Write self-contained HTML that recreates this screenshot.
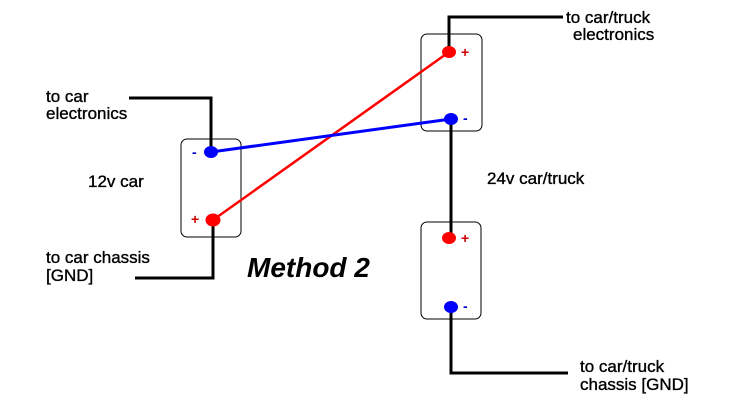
<!DOCTYPE html>
<html>
<head>
<meta charset="utf-8">
<style>
html,body{margin:0;padding:0;background:#fff;}
svg{display:block;}
text{font-family:"Liberation Sans",Arial,sans-serif;}
</style>
</head>
<body>
<svg width="748" height="403" viewBox="0 0 748 403" xmlns="http://www.w3.org/2000/svg">
<rect width="748" height="403" fill="#fff"/>
<!-- boxes -->
<rect x="181" y="139" width="60" height="98" rx="6" ry="6" fill="none" stroke="#000" stroke-width="1"/>
<rect x="421" y="34" width="61" height="97" rx="6" ry="6" fill="none" stroke="#000" stroke-width="1"/>
<rect x="421" y="222" width="60" height="97" rx="6" ry="6" fill="none" stroke="#000" stroke-width="1"/>

<!-- black wires -->
<polyline points="129,98 211,98 211,152" fill="none" stroke="#000" stroke-width="3"/>
<polyline points="213,220 213,278 135,278" fill="none" stroke="#000" stroke-width="3"/>
<polyline points="449,52 449,17 563,17" fill="none" stroke="#000" stroke-width="3"/>
<polyline points="451,119 451,238" fill="none" stroke="#000" stroke-width="3"/>
<polyline points="451,307 451,373 568,373" fill="none" stroke="#000" stroke-width="3"/>

<!-- colored wires -->
<line x1="213" y1="220" x2="449" y2="52" stroke="#ff0000" stroke-width="2.5"/>
<line x1="211" y1="152" x2="451" y2="119" stroke="#0000ff" stroke-width="3"/>

<!-- dots -->
<ellipse cx="211" cy="152" rx="7" ry="6" fill="#0000ff"/>
<ellipse cx="213" cy="220" rx="7.5" ry="6.5" fill="#ff0000"/>
<ellipse cx="449" cy="52" rx="7" ry="6" fill="#ff0000"/>
<ellipse cx="451" cy="119" rx="7" ry="6" fill="#0000ff"/>
<ellipse cx="449" cy="238" rx="7" ry="6" fill="#ff0000"/>
<ellipse cx="451" cy="307" rx="7" ry="6" fill="#0000ff"/>

<!-- polarity signs -->
<text x="192" y="157" font-size="14" font-weight="bold" fill="#0000cc">-</text>
<text x="191" y="224" font-size="14" font-weight="bold" fill="#cc0000">+</text>
<text x="461" y="57" font-size="14" font-weight="bold" fill="#cc0000">+</text>
<text x="463" y="123" font-size="14" font-weight="bold" fill="#0000cc">-</text>
<text x="461" y="243" font-size="14" font-weight="bold" fill="#cc0000">+</text>
<text x="463" y="311" font-size="14" font-weight="bold" fill="#0000cc">-</text>

<!-- labels -->
<g font-size="17" fill="#000" stroke="#000" stroke-width="0.35">
<text x="46" y="102">to car</text>
<text x="46" y="119">electronics</text>
<text x="88" y="187">12v car</text>
<text x="46" y="263">to car chassis</text>
<text x="46" y="281">[GND]</text>
<text x="566" y="23">to car/truck</text>
<text x="573" y="40">electronics</text>
<text x="487" y="184">24v car/truck</text>
<text x="580" y="372">to car/truck</text>
<text x="580" y="390">chassis [GND]</text>
</g>
<text x="247" y="277" font-size="28" font-weight="bold" font-style="italic" fill="#000">Method 2</text>
</svg>
</body>
</html>
